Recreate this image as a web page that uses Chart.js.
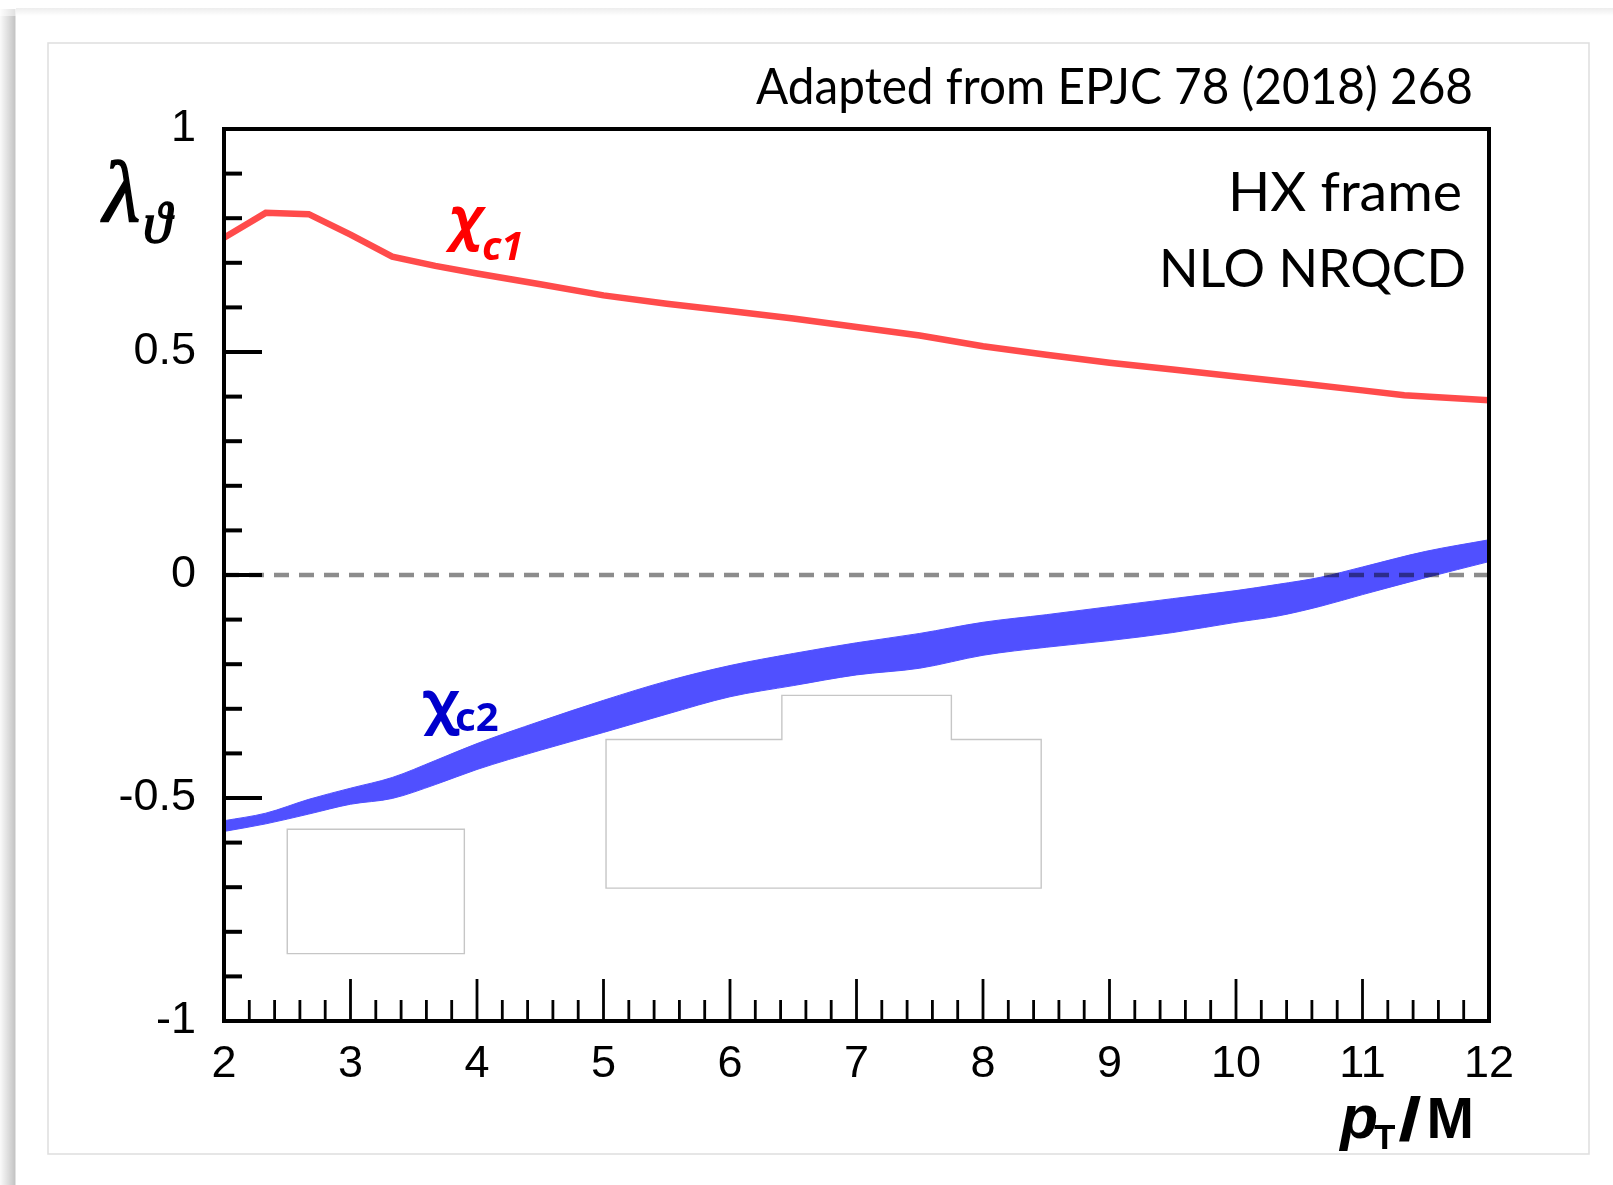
<!DOCTYPE html>
<html>
<head>
<meta charset="utf-8">
<script src="https://cdn.jsdelivr.net/npm/chart.js@4.4.1/dist/chart.umd.min.js"></script>
<style>
  html, body { margin: 0; padding: 0; background: #fff; }
  #wrap { width: 1613px; height: 1185px; }
</style>
</head>
<body>
<div id="wrap"><canvas id="chart" width="1613" height="1185"></canvas></div>
<script>
// lambda_theta vs pT/M, HX frame, NLO NRQCD (chi_c1 line, chi_c2 band)

const xTicks = [2, 3, 4, 5, 6, 7, 8, 9, 10, 11, 12];
const yTicks = [-1, -0.5, 0, 0.5, 1];

const chic1X = [2, 2.33, 2.67, 3.0, 3.33, 3.67, 4.0, 4.5, 5.0, 5.5, 6.0, 6.5, 7.0, 7.5, 8.0, 8.5, 9.0, 9.5, 10.0, 10.5, 11.0, 11.33, 12.0];
const chic1Y = [0.756, 0.812, 0.809, 0.763, 0.714, 0.693, 0.676, 0.652, 0.627, 0.608, 0.592, 0.575, 0.556, 0.537, 0.513, 0.494, 0.476, 0.461, 0.445, 0.430, 0.414, 0.403, 0.392];

const chic2X  = [2, 2.33, 2.67, 3.0, 3.33, 3.67, 4.0, 4.5, 5.0, 5.5, 6.0, 6.5, 7.0, 7.5, 8.0, 8.5, 9.0, 9.5, 10.0, 10.33, 10.67, 11.0, 11.5, 12];
const chic2Hi = [-0.551, -0.534, -0.503, -0.478, -0.454, -0.416, -0.378, -0.328, -0.281, -0.238, -0.203, -0.176, -0.152, -0.131, -0.106, -0.089, -0.071, -0.053, -0.035, -0.021, -0.005, 0.018, 0.053, 0.079];
const chic2Lo = [-0.575, -0.558, -0.536, -0.514, -0.501, -0.470, -0.436, -0.393, -0.353, -0.312, -0.273, -0.248, -0.224, -0.209, -0.180, -0.162, -0.147, -0.129, -0.106, -0.092, -0.070, -0.044, -0.006, 0.030];

const zeroX = [2, 12];
const zeroY = [0, 0];

// faint leftover outlines in the picture (data units)
const ghostBox = [[2.50, -0.570], [3.90, -0.570], [3.90, -0.849], [2.50, -0.849]];
const ghostShape = [[5.02, -0.702], [5.02, -0.369], [6.41, -0.369], [6.41, -0.270], [7.75, -0.270], [7.75, -0.369], [8.46, -0.369], [8.46, -0.702]];

const toPoints = (xs, ys) => xs.map((x, i) => ({ x, y: ys[i] }));

const tickFont = { family: "'Liberation Sans', Arial, sans-serif", size: 45 };

// ─── page background: slide shadow + light frame ──────────────────────
const pageBackground = {
  id: 'pageBackground',
  beforeDraw(chart) {
    const { ctx, width, height } = chart;
    ctx.save();
    ctx.fillStyle = '#fff';
    ctx.fillRect(0, 0, width, height);

    const g = ctx.createLinearGradient(0, 0, 16, 0);
    g.addColorStop(0, 'rgba(0,0,0,0.02)');
    g.addColorStop(0.75, 'rgba(0,0,0,0.19)');
    g.addColorStop(0.92, 'rgba(0,0,0,0.23)');
    g.addColorStop(1, 'rgba(0,0,0,0.04)');
    ctx.fillStyle = g;
    ctx.fillRect(0, 16, 16, height - 16);
    ctx.globalAlpha = 0.5;
    ctx.fillRect(0, 9, 16, 7);
    ctx.globalAlpha = 1;

    const t = ctx.createLinearGradient(0, 8, 0, 16);
    t.addColorStop(0, 'rgba(0,0,0,0.07)');
    t.addColorStop(1, 'rgba(0,0,0,0)');
    ctx.fillStyle = t;
    ctx.fillRect(16, 8, width - 16, 8);

    ctx.strokeStyle = '#dedede';
    ctx.lineWidth = 1.5;
    ctx.strokeRect(48, 43, 1541, 1111);
    ctx.restore();
  }
};

// ─── ghost outlines under the data ────────────────────────────────────
const ghosts = {
  id: 'ghosts',
  beforeDatasetsDraw(chart) {
    const { ctx, scales: { x, y } } = chart;
    ctx.save();
    ctx.strokeStyle = '#c6c6c6';
    ctx.lineWidth = 1.4;
    [ghostBox, ghostShape].forEach(poly => {
      ctx.beginPath();
      poly.forEach(([px, py], i) => {
        const X = x.getPixelForValue(px), Y = y.getPixelForValue(py);
        if (i === 0) ctx.moveTo(X, Y); else ctx.lineTo(X, Y);
      });
      ctx.closePath();
      ctx.stroke();
    });
    ctx.restore();
  }
};

// ─── box frame + inward ticks ─────────────────────────────────────────
const frameTicks = {
  id: 'frameTicks',
  afterDatasetsDraw(chart) {
    const { ctx, chartArea: a, scales: { x, y } } = chart;
    ctx.save();
    ctx.strokeStyle = '#000';
    ctx.lineCap = 'butt';

    // y ticks every 0.1, long ones on the labelled values
    ctx.lineWidth = 4;
    for (let k = -10; k <= 10; k++) {
      const v = k / 10;
      const Y = y.getPixelForValue(v);
      const len = yTicks.some(t => Math.abs(t - v) < 1e-9) ? 38 : 18;
      ctx.beginPath();
      ctx.moveTo(a.left, Y);
      ctx.lineTo(a.left + len, Y);
      ctx.stroke();
    }

    // x ticks every 0.2, long ones on integers
    ctx.lineWidth = 2.8;
    for (let k = 10; k <= 60; k++) {
      const v = k / 5;
      const X = x.getPixelForValue(v);
      const len = k % 5 === 0 ? 42 : 21;
      ctx.beginPath();
      ctx.moveTo(X, a.bottom);
      ctx.lineTo(X, a.bottom - len);
      ctx.stroke();
    }

    ctx.lineWidth = 4;
    ctx.strokeRect(a.left, a.top, a.right - a.left, a.bottom - a.top);
    ctx.restore();
  }
};

// ─── texts ────────────────────────────────────────────────────────────
function fitText(ctx, text, xRight, baseline, width, font, color) {
  ctx.font = font;
  const w = ctx.measureText(text).width;
  ctx.save();
  ctx.fillStyle = color || '#000';
  ctx.textAlign = 'left';
  ctx.textBaseline = 'alphabetic';
  ctx.translate(xRight - width, baseline);
  ctx.scale(width / w, 1);
  ctx.fillText(text, 0, 0);
  ctx.restore();
}

const texts = {
  id: 'texts',
  afterDraw(chart) {
    const { ctx } = chart;
    ctx.save();
    ctx.textBaseline = 'alphabetic';
    ctx.textAlign = 'left';

    fitText(ctx, 'Adapted from EPJC 78 (2018) 268', 1473, 104, 717, "51px Lato, 'Open Sans', sans-serif");
    fitText(ctx, 'HX frame', 1462, 211, 234, "55px Lato, 'Open Sans', sans-serif");
    fitText(ctx, 'NLO NRQCD', 1466, 287, 307, "53px Lato, 'Open Sans', sans-serif");

    // axis title y: lambda_theta
    ctx.fillStyle = '#000';
    ctx.font = "italic 86px 'Liberation Serif', serif";
    ctx.lineWidth = 1.5;
    ctx.strokeStyle = '#000';
    ctx.fillText('λ', 103, 221);
    ctx.strokeText('λ', 103, 221);
    ctx.font = "italic 58px 'Liberation Serif', serif";
    ctx.fillText('ϑ', 143, 242);
    ctx.strokeText('ϑ', 143, 242);

    // axis title x: pT/M
    ctx.font = "bold 57px 'Liberation Sans', Arial, sans-serif";
    ctx.textAlign = 'right';
    ctx.fillText('M', 1474, 1138);
    ctx.font = "bold 62px 'Liberation Sans', Arial, sans-serif";
    ctx.save();
    ctx.translate(1410, 1140);
    ctx.scale(1.35, 1);
    ctx.textAlign = 'center';
    ctx.fillText('/', 0, 0);
    ctx.restore();
    ctx.textAlign = 'left';
    ctx.font = "bold 35px 'Liberation Sans', Arial, sans-serif";
    ctx.fillText('T', 1374, 1149);
    ctx.font = "italic bold 62px 'Liberation Sans', Arial, sans-serif";
    ctx.textAlign = 'right';
    ctx.fillText('p', 1378, 1138);
    ctx.textAlign = 'left';

    // chi_c1 label
    ctx.fillStyle = '#ff0000';
    ctx.font = "italic bold 58px 'Noto Sans', sans-serif";
    ctx.fillText('χ', 449, 238);
    ctx.font = "italic bold 40px 'Noto Sans', sans-serif";
    ctx.fillText('c1', 482, 260);

    // chi_c2 label
    ctx.fillStyle = '#0000cc';
    ctx.font = "bold 58px 'Noto Sans', sans-serif";
    ctx.fillText('χ', 423, 722);
    ctx.font = "bold 40px 'Noto Sans', sans-serif";
    ctx.fillText('c2', 455, 731);

    ctx.restore();
  }
};

new Chart(document.getElementById('chart'), {
  type: 'line',
  data: {
    datasets: [
      {
        label: 'zero',
        data: toPoints(zeroX, zeroY),
        borderColor: 'rgba(0,0,0,0.45)',
        borderWidth: 4.5,
        borderDash: [15, 10],
        pointRadius: 0,
        fill: false,
        order: 0
      },
      {
        label: 'chi_c1',
        data: toPoints(chic1X, chic1Y),
        borderColor: '#ff4b4b',
        borderWidth: 6.5,
        pointRadius: 0,
        tension: 0,
        fill: false,
        order: 1
      },
      {
        label: 'chi_c2 low',
        data: toPoints(chic2X, chic2Lo),
        borderColor: '#5050ff',
        borderWidth: 1,
        pointRadius: 0,
        cubicInterpolationMode: 'monotone',
        fill: false,
        order: 2
      },
      {
        label: 'chi_c2 high',
        data: toPoints(chic2X, chic2Hi),
        borderColor: '#5050ff',
        backgroundColor: '#5050ff',
        borderWidth: 1,
        pointRadius: 0,
        cubicInterpolationMode: 'monotone',
        fill: '-1',
        order: 3
      }
    ]
  },
  options: {
    responsive: false,
    animation: false,
    devicePixelRatio: 1,
    layout: { padding: { top: 129, right: 124, left: 0, bottom: 0 } },
    plugins: {
      legend: { display: false },
      tooltip: { enabled: false },
      title: { display: false }
    },
    scales: {
      x: {
        type: 'linear',
        min: 2,
        max: 12,
        grid: { display: false, drawTicks: false },
        border: { display: false },
        afterBuildTicks: s => { s.ticks = xTicks.map(v => ({ value: v })); },
        afterFit: s => { s.height = 164; },
        ticks: {
          font: tickFont,
          color: '#000',
          padding: 17,
          maxRotation: 0,
          autoSkip: false,
          callback: v => String(v)
        }
      },
      y: {
        type: 'linear',
        min: -1,
        max: 1,
        grid: { display: false, drawTicks: false },
        border: { display: false },
        afterBuildTicks: s => { s.ticks = yTicks.map(v => ({ value: v })); },
        afterFit: s => { s.width = 224; },
        ticks: {
          font: tickFont,
          color: '#000',
          padding: 28,
          autoSkip: false,
          callback: v => String(v)
        }
      }
    }
  },
  plugins: [pageBackground, ghosts, frameTicks, texts]
});
</script>
</body>
</html>
